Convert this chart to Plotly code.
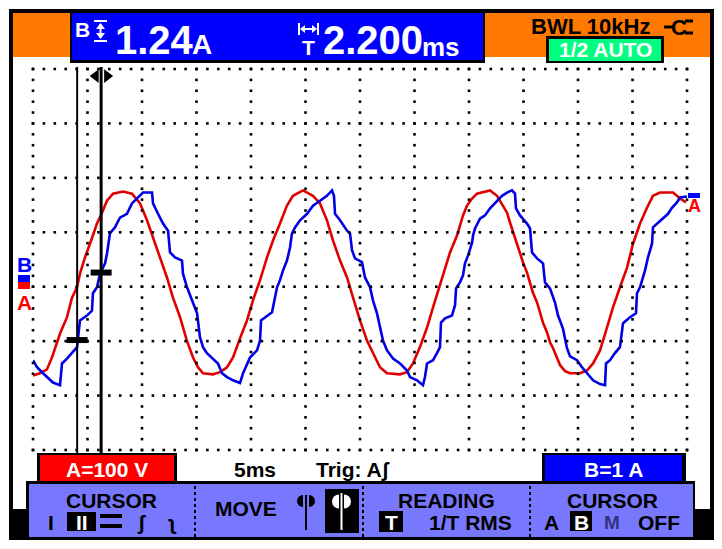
import numpy as np
import plotly.graph_objects as go

W, H = 722, 549

# scope settings
ms_per_div = 5
volts_per_div = 100
amps_per_div = 1
n_hdiv, n_vdiv = 12, 7
zero_div = 3.06          # trace zero level, divisions above graticule bottom

# channel A (voltage, V)
t_a = [0.00, 0.64, 1.28, 1.74, 2.48, 3.12, 3.58, 4.04, 4.31, 4.77,
       5.23, 5.87, 6.33, 6.79, 7.34, 8.26, 9.08, 9.82, 10.46, 11.01,
       11.65, 12.29, 12.84, 13.49, 14.13, 14.68, 15.14, 15.60, 16.51, 17.16,
       17.80, 18.35, 18.99, 19.63, 20.18, 20.83, 21.47, 22.02, 22.66, 23.30,
       23.85, 24.77, 25.69, 26.33, 26.97, 27.52, 28.17, 28.81, 29.36, 30.00,
       30.64, 31.19, 31.83, 32.48, 33.67, 34.31, 34.86, 35.50, 36.15, 36.70,
       37.34, 37.98, 38.26, 38.90, 39.17, 39.45, 39.82, 40.28, 40.73, 41.93,
       42.57, 43.12, 43.49, 43.76, 44.04, 44.40, 44.68, 44.95, 45.32, 45.60,
       45.87, 46.24, 46.51, 46.79, 47.16, 47.43, 47.71, 48.07, 48.35, 48.81,
       49.27, 50.18, 50.83, 51.38, 52.02, 52.66, 53.21, 53.85, 54.50, 55.05,
       55.69, 56.33, 56.88, 57.52, 58.72, 59.36, 59.91]
v_a = [-169, -165, -158, -136, -92, -62, -26, -7, 18, 48,
       73, 110, 130, 152, 165, 169, 165, 147, 116, 84,
       48, 11, -26, -62, -106, -136, -154, -165, -167, -163,
       -154, -136, -101, -68, -31, 6, 48, 79, 110, 143,
       161, 171, 161, 147, 116, 79, 42, 11, -26, -68,
       -105, -128, -154, -165, -167, -163, -147, -117, -81, -44,
       -2, 39, 57, 88, 106, 125, 143, 156, 165, 171,
       161, 143, 130, 112, 94, 75, 57, 39, 20, 2,
       -17, -35, -53, -72, -90, -108, -119, -138, -150, -161,
       -165, -165, -160, -147, -123, -81, -44, -7, 29, 73,
       110, 139, 161, 167, 167, 156, 149]

# channel B (current, A)
t_b = [0.00, 0.37, 0.92, 1.38, 1.83, 2.48, 2.66, 3.12, 3.58, 4.04,
       4.31, 4.95, 5.41, 5.50, 5.87, 6.15, 6.61, 6.79, 7.06, 7.52,
       7.98, 8.62, 9.08, 9.54, 10.09, 10.92, 11.01, 11.47, 11.93, 12.39,
       12.57, 13.03, 13.67, 13.76, 14.13, 14.59, 15.05, 15.32, 15.60, 15.96,
       16.51, 16.97, 17.34, 17.80, 18.35, 18.99, 19.27, 19.63, 19.91, 20.55,
       20.83, 20.92, 21.47, 21.93, 22.20, 22.39, 22.66, 22.94, 23.30, 23.58,
       23.76, 24.04, 24.50, 25.14, 25.69, 26.33, 26.97, 27.43, 27.61, 27.71,
       28.17, 28.81, 29.08, 29.27, 29.54, 30.18, 30.46, 30.92, 31.19, 31.56,
       31.83, 32.11, 32.48, 33.03, 33.67, 34.31, 34.59, 35.23, 35.78, 35.96,
       36.15, 36.70, 37.06, 37.34, 37.43, 37.80, 38.44, 38.72, 38.81, 39.17,
       39.45, 39.63, 39.91, 40.28, 40.37, 40.55, 41.01, 41.47, 41.93, 42.57,
       43.03, 43.49, 43.94, 44.22, 44.31, 44.68, 45.32, 45.60, 45.78, 46.24,
       46.79, 46.97, 47.43, 47.89, 48.17, 48.62, 48.99, 49.27, 49.91, 50.37,
       50.83, 51.38, 52.02, 52.48, 52.57, 52.94, 53.39, 53.85, 54.13, 54.77,
       55.32, 55.41, 55.69, 56.15, 56.42, 56.79, 56.88, 57.25, 57.80, 58.26,
       58.62, 59.08, 59.36, 60.09]
i_b = [-1.41, -1.54, -1.65, -1.74, -1.82, -1.87, -1.47, -1.38, -1.28, -1.17,
       -0.68, -0.59, -0.50, -0.18, -0.07, 0.18, 0.37, 0.55, 0.92, 1.03,
       1.21, 1.28, 1.47, 1.56, 1.67, 1.67, 1.47, 1.28, 1.10, 0.97,
       0.57, 0.48, 0.42, 0.18, -0.07, -0.31, -0.55, -0.99, -1.17, -1.28,
       -1.38, -1.47, -1.65, -1.72, -1.78, -1.83, -1.65, -1.47, -1.36, -1.23,
       -1.05, -0.68, -0.59, -0.53, -0.26, -0.07, 0.06, 0.24, 0.42, 0.66,
       0.92, 1.03, 1.16, 1.28, 1.43, 1.52, 1.61, 1.71, 1.61, 1.28,
       1.16, 0.97, 0.92, 0.61, 0.46, 0.39, 0.11, -0.07, -0.31, -0.55,
       -0.81, -1.05, -1.23, -1.38, -1.47, -1.60, -1.72, -1.78, -1.87, -1.72,
       -1.47, -1.41, -1.28, -1.17, -0.72, -0.64, -0.59, -0.40, -0.09, 0.02,
       0.15, 0.37, 0.51, 0.75, 0.88, 1.01, 1.19, 1.25, 1.38, 1.52,
       1.61, 1.67, 1.71, 1.65, 1.38, 1.25, 1.10, 1.01, 0.57, 0.46,
       0.37, 0.02, -0.09, -0.35, -0.59, -0.83, -1.19, -1.34, -1.41, -1.54,
       -1.65, -1.78, -1.85, -1.87, -1.47, -1.41, -1.28, -1.17, -0.73, -0.62,
       -0.55, -0.18, -0.07, 0.24, 0.48, 0.73, 1.03, 1.10, 1.21, 1.28,
       1.39, 1.49, 1.58, 1.60]

cursor_t = [4.05, 6.25]          # ms
cursor_level = [-1.04, 0.20]     # A, where the cursors cut trace B

FONT = "Liberation Sans, Arial, sans-serif"
ORANGE = "#ff7800"
BLUE = "#0000ff"
RED = "#ff0000"
MENU = "#7878ff"
GREEN = "#00ff80"


def rect(x0, y0, x1, y1, color, layer="below"):
    return dict(type="rect", xref="paper", yref="paper", x0=x0 / W, x1=x1 / W,
                y0=1 - y1 / H, y1=1 - y0 / H, fillcolor=color, line_width=0, layer=layer)


def poly(pts, color):
    p = "M" + " L".join(f"{x / W:.5f},{1 - y / H:.5f}" for x, y in pts) + " Z"
    return dict(type="path", xref="paper", yref="paper", path=p,
                fillcolor=color, line_width=0, layer="above")


def seg(x0, y0, x1, y1, color, w=2, dash="solid"):
    return dict(type="line", xref="paper", yref="paper", x0=x0 / W, x1=x1 / W,
                y0=1 - y0 / H, y1=1 - y1 / H, line=dict(color=color, width=w, dash=dash),
                layer="above")


def txt(x, y, s, size, color="black", anchor="center"):
    return dict(x=x / W, y=1 - y / H, xref="paper", yref="paper", text=f"<b>{s}</b>",
                showarrow=False, xanchor=anchor, yanchor="middle",
                font=dict(family=FONT, size=size, color=color))


def half_disc(cx, cy, r, side, color):
    a = np.linspace(-np.pi / 2, np.pi / 2, 9)
    pts = [(cx + side * r * np.cos(k), cy + r * np.sin(k)) for k in a]
    return poly(pts, color)


fig = go.Figure()

# graticule dots
span_ms = n_hdiv * ms_per_div
gx, gy = [], []
for row in range(n_vdiv + 1):
    xs = np.arange(0, span_ms + 0.01, 1.0)
    gx += list(xs)
    gy += [row] * len(xs)
for col in range(n_hdiv + 1):
    ys = np.arange(0, n_vdiv + 0.01, 0.2)
    gx += [col * ms_per_div] * len(ys)
    gy += list(ys)
fig.add_trace(go.Scatter(x=gx, y=gy, yaxis="y3", mode="markers", cliponaxis=False,
                         marker=dict(symbol="square", size=2.6, color="black"),
                         hoverinfo="skip"))

fig.add_trace(go.Scatter(x=t_a, y=v_a, mode="lines", line=dict(color="#e00000", width=2.6),
                         name="A"))
fig.add_trace(go.Scatter(x=t_b, y=i_b, yaxis="y2", mode="lines",
                         line=dict(color="#0000e6", width=2.6), name="B"))

# cursor crossing marks and top cursor handle
fig.add_trace(go.Scatter(x=cursor_t, y=cursor_level, yaxis="y2", mode="markers",
                         marker=dict(symbol="line-ew", size=15, line=dict(width=6, color="black")),
                         cliponaxis=False))
top = n_vdiv - zero_div - 0.13
fig.add_trace(go.Scatter(x=[cursor_t[1] - 0.5, cursor_t[1] + 0.55], y=[top, top], yaxis="y2",
                         mode="markers", cliponaxis=False,
                         marker=dict(symbol=["triangle-left", "triangle-right"], size=12,
                                     color="black")))

shapes = [
    rect(9, 9, 714, 540, "black"),
    rect(13, 13, 710, 509, "white"),
    rect(28, 13, 693, 537, "white"),
    rect(13, 13, 710, 57, ORANGE),
    rect(70, 12, 485, 63, "black"),
    rect(72, 13, 483, 60, BLUE),
    rect(546, 36, 664, 63, "black"),
    rect(549, 39, 661, 61, GREEN),
    # bottom readouts
    rect(37, 453, 177, 485, "black"),
    rect(40, 455, 174, 484, RED),
    rect(542, 453, 686, 485, "black"),
    rect(545, 455, 682, 484, BLUE),
    # menu bar
    rect(26, 481, 695, 540, "black"),
    rect(29, 484, 693, 537, MENU),
    # left/right trace markers
    rect(18, 275, 30, 282, BLUE),
    rect(18, 282, 30, 289, RED),
    rect(688, 193, 700, 198, BLUE),
]
for sx in [195, 363, 530]:
    shapes.append(seg(sx, 486, sx, 537, "black", 2, "dot"))

# cursor lines
for ct, w in zip(cursor_t, [2, 3]):
    shapes.append(dict(type="line", xref="x", yref="paper", x0=ct, x1=ct,
                       y0=1 - 455 / H, y1=1 - 67 / H, line=dict(color="black", width=w),
                       layer="above"))

# header icons
shapes += [
    seg(94, 21, 107, 21, "white", 2), seg(94, 41, 107, 41, "white", 2),
    seg(100.5, 24, 100.5, 38, "white", 2),
    poly([(96, 29), (105, 29), (100.5, 23)], "white"),
    poly([(96, 33), (105, 33), (100.5, 39)], "white"),
    seg(299, 23, 299, 35, "white", 2), seg(318, 23, 318, 35, "white", 2),
    poly([(300, 29), (305, 25), (305, 33)], "white"),
    poly([(317, 29), (312, 25), (312, 33)], "white"),
    seg(305, 29, 312, 29, "white", 2),
    seg(664, 27, 674, 27, "black", 3),
    seg(685, 21, 693, 21, "black", 3), seg(685, 33, 693, 33, "black", 3),
]

# menu icons
shapes += [
    rect(67, 512, 96, 531, "black", "above"),
    rect(100, 514, 122, 518, "black", "above"),
    rect(100, 524, 122, 528, "black", "above"),
    seg(306, 495, 306, 530, "black", 2),
    half_disc(303, 501, 6, -1, "black"), half_disc(309, 501, 6, 1, "black"),
    rect(325, 489, 359, 533, "black", "above"),
    seg(341.5, 493, 341.5, 530, "white", 2),
    half_disc(339, 501.5, 7, -1, "white"), half_disc(344, 501.5, 7, 1, "white"),
    rect(379, 511, 403, 532, "black", "above"),
    rect(570, 511, 592, 531, "black", "above"),
]

ann = [
    txt(82.5, 29, "B", 21, "white"),
    txt(154, 40, "1.24", 40, "white"),
    txt(202, 45, "A", 28, "white"),
    txt(308, 48, "T", 21, "white"),
    txt(373, 40, "2.200", 40, "white"),
    txt(441, 47, "ms", 26, "white"),
    txt(590, 26, "BWL 10kHz", 22),
    txt(679, 27, "C", 22),
    txt(605, 50, "1/2 AUTO", 21, "white"),
    txt(24, 264, "B", 21, BLUE),
    txt(24, 303, "A", 21, RED),
    txt(694, 206, "A", 18, RED),
    txt(107, 469, "A=100 V", 21, "white"),
    txt(255, 469, "5ms", 21),
    txt(353, 469, "Trig: Aʃ", 21),
    txt(613, 469, "B=1 A", 21, "white"),
    txt(111, 500, "CURSOR", 21),
    txt(51, 522, "I", 21),
    txt(81.5, 522, "II", 21, "white"),
    txt(141, 522, "ʃ", 21),
    txt(172, 522, "ʅ", 21),
    txt(246, 508, "MOVE", 21),
    txt(446, 500, "READING", 21),
    txt(391, 522, "T", 21, "white"),
    txt(470, 522, "1/T RMS", 21),
    txt(612, 500, "CURSOR", 21),
    txt(551, 522, "A", 21),
    txt(581, 522, "B", 21, "white"),
    txt(612, 522, "M", 19, "#34347a"),
    txt(659, 522, "OFF", 21),
]

v_lo = -zero_div * volts_per_div
v_hi = (n_vdiv - zero_div) * volts_per_div
fig.update_layout(
    width=W, height=H, margin=dict(l=0, r=0, t=0, b=0),
    paper_bgcolor="white", plot_bgcolor="rgba(0,0,0,0)", showlegend=False,
    xaxis=dict(domain=[33 / W, 687 / W], range=[0, span_ms], visible=False),
    yaxis=dict(domain=[1 - 450 / H, 1 - 69 / H], range=[v_lo, v_hi], visible=False),
    yaxis2=dict(overlaying="y", range=[v_lo / volts_per_div * amps_per_div,
                                       v_hi / volts_per_div * amps_per_div], visible=False),
    yaxis3=dict(overlaying="y", range=[0, n_vdiv], visible=False),
    shapes=shapes, annotations=ann,
)

fig.write_html("out.html", config={"displayModeBar": False},
               post_script="document.body.style.margin='0px';")
